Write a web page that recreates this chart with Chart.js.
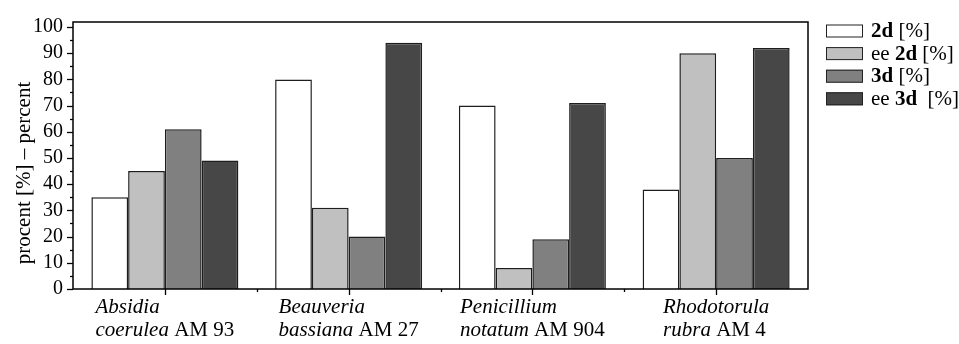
<!DOCTYPE html>
<html>
<head>
<meta charset="utf-8">
<script src="https://cdn.jsdelivr.net/npm/chart.js@4/dist/chart.umd.min.js"></script>
<style>
  html, body { margin: 0; padding: 0; background: #fff; }
</style>
</head>
<body>
<canvas id="chart" width="959" height="344"></canvas>
<script>
// categories: genus (italic), species (italic), strain code
const genus = ["Absidia", "Beauveria", "Penicillium", "Rhodotorula"];
const species = ["coerulea", "bassiana", "notatum", "rubra"];
const strain = [" AM 93", " AM 27", " AM 904", " AM 4"];

// series values [%]
const conv2d = [35, 80, 70, 38];
const ee2d = [45, 31, 8, 90];
const conv3d = [61, 20, 19, 50];
const ee3d = [49, 94, 71, 92];

const yTicks = [0, 10, 20, 30, 40, 50, 60, 70, 80, 90, 100];

// legend labels as [text, bold] pieces
const legendLabels = [
  [["2d", true], [" [%]", false]],
  [["ee ", false], ["2d", true], [" [%]", false]],
  [["3d", true], [" [%]", false]],
  [["ee ", false], ["3d", true], ["  [%]", false]]
];
const colors = ["#ffffff", "#c0c0c0", "#808080", "#474747"];

const FONT = '"Liberation Serif", "Times New Roman", serif';

// frame, tick marks, x labels, y title and legend
const decorations = {
  id: 'decorations',
  afterDraw(chart) {
    const c = chart.ctx;
    const a = chart.chartArea;
    const x = chart.scales.x, y = chart.scales.y;
    c.save();
    c.strokeStyle = '#000';
    c.fillStyle = '#000';
    c.lineWidth = 1.5;
    c.strokeRect(a.left, a.top, a.right - a.left, a.bottom - a.top);

    // y ticks (major every 10, minor every 5)
    c.lineWidth = 1.3;
    for (let v = 0; v <= 100; v += 5) {
      const py = Math.round(y.getPixelForValue(v)) + 0.5;
      const len = v % 10 === 0 ? 6 : 3;
      c.beginPath();
      c.moveTo(a.left - len, py);
      c.lineTo(a.left, py);
      c.stroke();
    }
    // x ticks: major at category centres, minor between them
    for (let i = 0; i < genus.length; i++) {
      const px = Math.round(x.getPixelForValue(i)) + 0.5;
      c.beginPath();
      c.moveTo(px, a.bottom);
      c.lineTo(px, a.bottom + 6);
      c.stroke();
      if (i > 0) {
        const mx = Math.round((x.getPixelForValue(i) + x.getPixelForValue(i - 1)) / 2) + 0.5;
        c.beginPath();
        c.moveTo(mx, a.bottom);
        c.lineTo(mx, a.bottom + 3);
        c.stroke();
      }
    }

    // x labels, two lines, left aligned within a centred block
    c.textBaseline = 'alphabetic';
    c.textAlign = 'left';
    const italic = 'italic 21px ' + FONT;
    const normal = '21px ' + FONT;
    for (let i = 0; i < genus.length; i++) {
      c.font = italic;
      const w1 = c.measureText(genus[i]).width;
      const ws = c.measureText(species[i]).width;
      c.font = normal;
      const wc = c.measureText(strain[i]).width;
      const bw = Math.max(w1, ws + wc);
      const left = x.getPixelForValue(i) - bw / 2;
      c.font = italic;
      c.fillText(genus[i], left, 313);
      c.fillText(species[i], left, 336);
      c.font = normal;
      c.fillText(strain[i], left + ws, 336);
    }

    // y axis title
    c.save();
    c.translate(24, 173);
    c.rotate(-Math.PI / 2);
    c.textAlign = 'center';
    c.textBaseline = 'middle';
    c.font = '21px ' + FONT;
    c.fillText('procent [%] \u2013 percent', 0, 0);
    c.restore();

    // legend
    c.lineWidth = 1;
    c.strokeStyle = '#222';
    legendLabels.forEach((parts, i) => {
      const by = 24.5 + i * 22.6;
      c.fillStyle = colors[i];
      c.fillRect(826, by, 37, 13);
      c.strokeRect(826.5, by + 0.5, 36, 12);
      c.fillStyle = '#000';
      c.textBaseline = 'middle';
      let tx = 871;
      parts.forEach(([t, bold]) => {
        c.font = (bold ? 'bold ' : '') + '21px ' + FONT;
        c.fillText(t, tx, by + 7);
        tx += c.measureText(t).width;
      });
    });
    c.restore();
  }
};

const barStyle = { borderColor: '#1e1e1e', borderWidth: 1.5, categoryPercentage: 0.8, barPercentage: 1 };

new Chart(document.getElementById('chart').getContext('2d'), {
  type: 'bar',
  data: {
    labels: genus,
    datasets: [
      { label: '2d [%]', data: conv2d, backgroundColor: colors[0], ...barStyle },
      { label: 'ee 2d [%]', data: ee2d, backgroundColor: colors[1], ...barStyle },
      { label: '3d [%]', data: conv3d, backgroundColor: colors[2], ...barStyle },
      { label: 'ee 3d [%]', data: ee3d, backgroundColor: colors[3], ...barStyle }
    ]
  },
  options: {
    responsive: false,
    animation: false,
    layout: { padding: { top: 19, right: 151, left: 0, bottom: 0 } },
    plugins: { legend: { display: false }, tooltip: { enabled: false } },
    scales: {
      x: {
        grid: { display: false, drawTicks: false },
        border: { display: false },
        ticks: { display: false },
        afterFit: s => { s.height = 55; }
      },
      y: {
        min: 0,
        max: 101.9,
        afterBuildTicks: s => { s.ticks = yTicks.map(v => ({ value: v })); },
        grid: { display: false, drawTicks: false },
        border: { display: false },
        ticks: { color: '#000', padding: 10, autoSkip: false, font: { family: FONT, size: 20 } },
        afterFit: s => { s.width = 73; }
      }
    }
  },
  plugins: [decorations]
});
</script>
</body>
</html>
